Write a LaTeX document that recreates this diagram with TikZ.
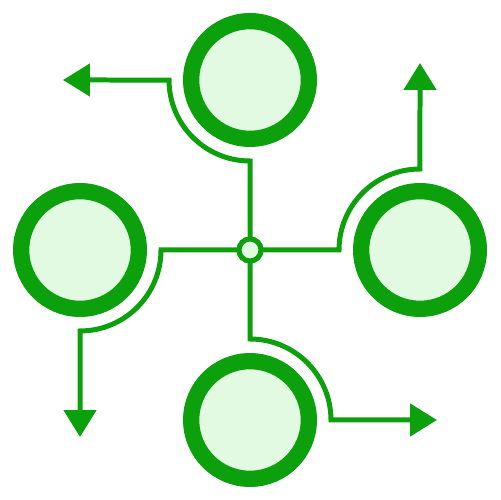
\documentclass[tikz,border=0pt]{standalone}
\usetikzlibrary{arrows.meta,calc}
\definecolor{ringgreen}{RGB}{12,160,12}
\definecolor{fillgreen}{RGB}{226,250,226}
\begin{document}
\begin{tikzpicture}[x=0.02cm,y=0.02cm,
  bigring/.style={circle,draw=ringgreen,fill=fillgreen,line width=0.326cm,
    minimum size=2.354cm,inner sep=0pt,outer sep=0pt},
  hub/.style={circle,draw=ringgreen,fill=fillgreen,line width=0.1cm,
    minimum size=0.44cm,inner sep=0pt,outer sep=0pt},
  conn/.style={draw=ringgreen,line width=0.1cm,
    -{Triangle[length=0.54cm,width=0.64cm]}}]
\path[use as bounding box] (0,0) rectangle (500,500);
% connectors
\coordinate (tipT) at (63,420);
\coordinate (tipL) at (80,63);
\coordinate (tipB) at (437,80);
\coordinate (tipR) at (420,437);
\node[hub] (c) at (250,250) {};
\draw[conn] (c.north) -- (250,339) arc[start angle=270,end angle=180,radius=1.62cm] -- (tipT);
\draw[conn] (c.west) -- (161,250) arc[start angle=0,end angle=-90,radius=1.62cm] -- (tipL);
\draw[conn] (c.south) -- (250,161) arc[start angle=90,end angle=0,radius=1.62cm] -- (tipB);
\draw[conn] (c.east) -- (339,250) arc[start angle=180,end angle=90,radius=1.62cm] -- (tipR);
% circles
\node[bigring] (t) at (250,420) {};
\node[bigring] (l) at (80,250) {};
\node[bigring] (r) at (420,250) {};
\node[bigring] (b) at (250,80) {};
\node[hub] (c2) at (250,250) {};
\end{tikzpicture}
\end{document}
